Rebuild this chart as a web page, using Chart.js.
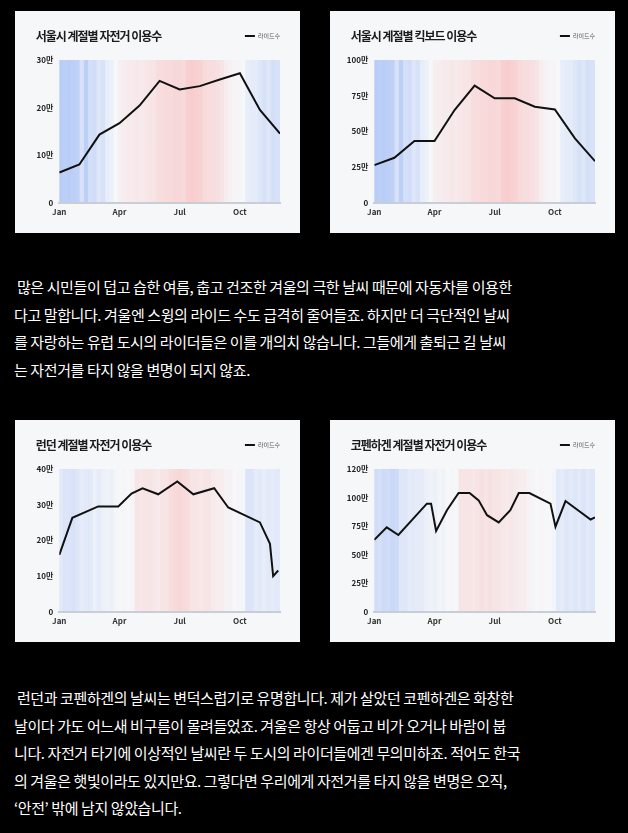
<!DOCTYPE html>
<html><head><meta charset="utf-8">
<script src="https://cdn.jsdelivr.net/npm/chart.js@4.4.1/dist/chart.umd.min.js"></script>
<style>
html,body{margin:0;padding:0;background:#000;}
body{width:628px;height:833px;position:relative;overflow:hidden;font-family:"Noto Sans CJK KR","Noto Sans",sans-serif;}
.panel{position:absolute;width:285px;height:222px;background:#f6f7f9;}
.panel canvas{display:block;}
.para{position:absolute;left:14px;color:#fff;font-size:15px;line-height:27.5px;letter-spacing:-0.4px;white-space:pre;}
</style></head><body>
<div class="panel" style="left:15px;top:11px"><canvas id="c1" width="285" height="222"></canvas></div>
<div class="panel" style="left:330px;top:11px"><canvas id="c2" width="285" height="222"></canvas></div>
<div class="para" style="top:273px"><div> 많은 시민들이 덥고 습한 여름, 춥고 건조한 겨울의 극한 날씨 때문에 자동차를 이용한</div><div>다고 말합니다. 겨울엔 스윙의 라이드 수도 급격히 줄어들죠. 하지만 더 극단적인 날씨</div><div>를 자랑하는 유럽 도시의 라이더들은 이를 개의치 않습니다. 그들에게 출퇴근 길 날씨</div><div>는 자전거를 타지 않을 변명이 되지 않죠.</div></div>
<div class="panel" style="left:15px;top:420px"><canvas id="c3" width="285" height="222"></canvas></div>
<div class="panel" style="left:330px;top:420px"><canvas id="c4" width="285" height="222"></canvas></div>
<div class="para" style="top:684px"><div> 런던과 코펜하겐의 날씨는 변덕스럽기로 유명합니다. 제가 살았던 코펜하겐은 화창한</div><div>날이다 가도 어느새 비구름이 몰려들었죠. 겨울은 항상 어둡고 비가 오거나 바람이 붑</div><div>니다. 자전거 타기에 이상적인 날씨란 두 도시의 라이더들에겐 무의미하죠. 적어도 한국</div><div>의 겨울은 햇빛이라도 있지만요. 그렇다면 우리에게 자전거를 타지 않을 변명은 오직,</div><div>‘안전’ 밖에 남지 않았습니다.</div></div>
<script>
// ---- tick labels ----
const monthTickValues = [0, 3, 6, 9];
const monthTickLabels = ['Jan', 'Apr', 'Jul', 'Oct'];
const weekLabels = ['1','2','3','4','5','6','7','8','9','10','11','12','13','14','15','16','17','18','19','20','21','22','23','24','25','26','27','28','29','30','31','32','33','34','35','36','37','38','39','40','41','42','43','44','45','46','47','48','49','50','51','52'];

// ---- weekly temperature stripes (-1 cold ... +1 hot) ----
const seoulStripes = [-0.9,-0.85,-0.9,-0.85,-0.8,-0.45,-0.85,-0.5,-0.55,-0.35,-0.45,-0.2,-0.15,0.0,0.12,0.15,0.2,0.2,0.25,0.2,0.25,0.3,0.3,0.4,0.4,0.45,0.45,0.5,0.5,0.45,0.6,0.65,0.6,0.55,0.45,0.4,0.4,0.35,0.3,0.15,0.1,0.05,0.05,0.0,-0.2,-0.25,-0.25,-0.35,-0.45,-0.35,-0.5,-0.45];
const londonStripes = [-0.3,-0.4,-0.4,-0.45,-0.35,-0.25,-0.3,-0.3,-0.15,-0.25,-0.15,-0.1,-0.15,-0.05,0.0,0.05,0.0,0.05,0.3,0.25,0.3,0.3,0.25,0.2,0.3,0.3,0.4,0.45,0.5,0.45,0.4,0.3,0.3,0.25,0.3,0.3,0.2,0.15,0.15,0.1,0.1,0.0,0.05,-0.05,-0.4,-0.4,-0.25,-0.3,-0.2,-0.3,-0.25,-0.3];
const copenhagenStripes = [-0.55,-0.5,-0.6,-0.55,-0.65,-0.6,-0.35,-0.35,-0.25,-0.3,-0.25,-0.25,-0.15,-0.1,-0.15,-0.05,-0.1,0.0,-0.05,0.0,0.3,0.3,0.3,0.25,0.3,0.35,0.3,0.35,0.3,0.3,0.25,0.2,0.25,0.2,0.15,0.15,0.1,0.05,0.0,0.05,0.0,0.0,-0.05,-0.3,-0.25,-0.35,-0.3,-0.35,-0.3,-0.4,-0.3,-0.35];

// ---- rides (만) ----
const seoulBikeX = [0,1,2,3,4,5,6,7,8,9,10,11];
const seoulBikeRides = [6.3,8.0,14.3,16.7,20.4,25.6,23.8,24.5,25.9,27.2,19.5,14.5];
const seoulKickX = [0,1,2,3,4,5,6,7,8,9,10,11];
const seoulKickRides = [26.2,31.4,43.1,43.1,64.9,82.0,73.1,73.1,67.2,65.3,45.0,29.0];
const londonX = [0,0.65,1.94,2.94,3.6,4.15,4.93,5.88,6.68,7.72,8.42,10.0,10.5,10.66,10.91];
const londonRides = [15.9,26.3,29.5,29.5,33.1,34.6,32.9,36.5,32.9,34.6,29.2,25.0,19.0,9.9,11.5];
const copenhagenX = [0,0.62,1.2,2.62,2.83,3.08,3.62,4.2,4.75,5.2,5.62,6.2,6.78,7.2,7.73,8.78,9.03,9.53,10.78,11];
const copenhagenRides = [62.8,73.8,67.1,94.6,94.6,70.6,88.8,103.9,103.9,97.5,84.5,78.1,88.8,103.9,103.9,94.6,74.4,96.9,80.7,82.5];

// ---- y ticks ----
const seoulBikeTicks = [0,10,20,30];
const seoulBikeTickLabels = ['0','10만','20만','30만'];
const seoulKickTicks = [0,25,50,75,100];
const seoulKickTickLabels = ['0','25만','50만','75만','100만'];
const londonTicks = [0,10,20,30,40];
const londonTickLabels = ['0','10만','20만','30만','40만'];
const copenhagenTicks = [0,25,50,75,100,125];
const copenhagenTickLabels = ['0','25만','50만','75만','100만','120만'];

const FAMILY = '"Noto Sans CJK KR", "Noto Sans", sans-serif';
const NEUTRAL = [246, 247, 249], COLD = [178, 200, 247], HOT = [250, 182, 182];

function stripeColor(v){
  const end = v >= 0 ? HOT : COLD; const t = Math.min(1, Math.abs(v));
  const c = NEUTRAL.map((n, i) => Math.round(n + (end[i] - n) * t));
  return 'rgb(' + c.join(',') + ')';
}

const titleShift = {
  id: 'titleShift',
  beforeDraw(chart, args, opts){
    const tb = chart.titleBlock;
    if (tb && !tb._shifted){
      const orig = tb.draw;
      tb.draw = function(){
        const ctx = this.ctx; const prev = ctx.letterSpacing;
        ctx.save();
        ctx.translate(opts.dx || 0, 0);
        ctx.letterSpacing = opts.spacing || '0px';
        orig.apply(this, arguments);
        ctx.letterSpacing = prev;
        ctx.restore();
      };
      tb._shifted = true;
    }
  }
};

function makeChart(id, title, stripes, xs, ys, yMax, yTicks, yTickLabels){
  return new Chart(document.getElementById(id), {
    type: 'bar',
    data: {
      labels: weekLabels,
      datasets: [
        { type: 'line', label: '라이드수', data: xs.map((x, i) => ({x: x, y: ys[i]})),
          xAxisID: 'x', yAxisID: 'y', borderColor: '#111', backgroundColor: '#111', borderWidth: 2,
          pointRadius: 0, tension: 0, fill: false, order: 0, borderJoinStyle: 'miter' },
        { type: 'bar', label: 'stripes', data: stripes.map(() => yMax),
          backgroundColor: stripes.map(stripeColor), borderColor: stripes.map(stripeColor),
          xAxisID: 'xs', yAxisID: 'y', barThickness: 6, grouped: false,
          borderWidth: 0, inflateAmount: 0, order: 1 }
      ]
    },
    options: {
      responsive: false, animation: false, events: [],
      layout: { padding: { left: 8, right: 20, top: 22, bottom: 0 } },
      plugins: {
        titleShift: { spacing: '-1px', dx: 12.7 },
        legend: { display: true, position: 'top', align: 'end', weight: 3000,
          labels: { filter: (item) => item.datasetIndex === 0, usePointStyle: true, pointStyle: 'line',
            pointStyleWidth: 10, padding: 0, color: '#555', font: { size: 6, family: FAMILY } } },
        title: { display: true, text: title, align: 'start', color: '#1b1b1b',
          font: { size: 12, weight: 'bold', family: FAMILY }, padding: { top: -20.2, bottom: 16.8 } },
        tooltip: { enabled: false }
      },
      scales: {
        x: { type: 'linear', position: 'bottom', min: 0, max: 11, offset: false, z: 1,
          afterBuildTicks: (s) => { s.ticks = monthTickValues.map(v => ({value: v})); },
          ticks: { callback: (v) => monthTickLabels[monthTickValues.indexOf(v)], padding: 5, color: '#333',
            font: { size: 8, weight: 'bold', family: FAMILY }, maxRotation: 0, autoSkip: false },
          grid: { display: false, drawTicks: false, offset: false },
          border: { display: true, color: '#c8cdd6', width: 2 },
          afterFit: (s) => { s.height = 30.5; } },
        xs: { type: 'category', display: false, offset: true, grid: { display: false } },
        y: { min: 0, max: yMax, z: 1,
          afterBuildTicks: (s) => { s.ticks = yTicks.map(v => ({value: v})); },
          ticks: { callback: (v) => yTickLabels[yTicks.indexOf(v)], padding: 6, color: '#222',
            font: { size: 8, weight: 'bold', family: FAMILY } },
          grid: { drawTicks: false, lineWidth: 1,
            color: (c) => (c.tick && (c.tick.value === 0 || c.tick.value === yMax)) ? 'rgba(0,0,0,0)' : 'rgba(0,0,0,0.08)' },
          border: { display: false, dash: [2, 2] },
          afterFit: (s) => { s.width = 36.3; } }
      }
    },
    plugins: [titleShift]
  });
}

makeChart('c1', '서울시 계절별 자전거 이용수', seoulStripes, seoulBikeX, seoulBikeRides, 30, seoulBikeTicks, seoulBikeTickLabels);
makeChart('c2', '서울시 계절별 킥보드 이용수', seoulStripes, seoulKickX, seoulKickRides, 100, seoulKickTicks, seoulKickTickLabels);
makeChart('c3', '런던 계절별 자전거 이용수', londonStripes, londonX, londonRides, 40, londonTicks, londonTickLabels);
makeChart('c4', '코펜하겐 계절별 자전거 이용수', copenhagenStripes, copenhagenX, copenhagenRides, 125, copenhagenTicks, copenhagenTickLabels);
</script>
</body></html>
